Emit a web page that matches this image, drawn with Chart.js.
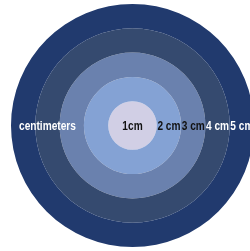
<!DOCTYPE html>
<html>
<head>
<meta charset="utf-8">
<script src="https://cdn.jsdelivr.net/npm/chart.js@4.4.1/dist/chart.umd.min.js"></script>
<style>
  html, body { margin: 0; padding: 0; background: #fff; overflow: hidden; }
  #wrap { width: 265px; height: 251px; }
</style>
</head>
<body>
<div id="wrap"><canvas id="ringChart"></canvas></div>
<script>
// rings from outermost to innermost
const ringLabels = ['5 cm', '4 cm', '3 cm', '2 cm', '1cm'];
const ringValues = [1, 1, 1, 1, 1];
const ringColors = ['#213a6e', '#354a6f', '#6a81ae', '#84a2d4', '#d1cfe5'];
const labelColors = ['#ffffff', '#ffffff', '#111111', '#111111', '#111111'];
const axisTitle = 'centimeters';

const FONT = "bold 13px 'Liberation Sans', Arial, sans-serif";
const SQUEEZE = 0.78; // condensed look

function drawNarrow(ctx, text, x, y) {
  ctx.save();
  ctx.translate(x, y);
  ctx.scale(SQUEEZE, 1);
  ctx.fillText(text, 0, 0);
  ctx.restore();
}

// Ring labels
const ringText = {
  id: 'ringText',
  afterDatasetsDraw(chart) {
    const ctx = chart.ctx;
    ctx.save();
    ctx.font = FONT;
    ctx.textAlign = 'center';
    ctx.textBaseline = 'middle';
    chart.data.datasets.forEach((ds, i) => {
      const arc = chart.getDatasetMeta(i).data[0];
      const mid = arc.innerRadius > 0 ? (arc.innerRadius + arc.outerRadius) / 2 : 0;
      ctx.fillStyle = labelColors[i];
      drawNarrow(ctx, ringLabels[i], arc.x + mid, arc.y + 1);
      if (i === 1) {
        ctx.fillStyle = '#ffffff';
        drawNarrow(ctx, axisTitle, arc.x - mid, arc.y + 1);
      }
    });
    ctx.restore();
  }
};

new Chart(document.getElementById('ringChart'), {
  type: 'doughnut',
  data: {
    labels: ['value'],
    datasets: ringLabels.map((l, i) => ({
      label: l,
      data: [ringValues[i]],
      backgroundColor: ringColors[i],
      borderWidth: 0
    }))
  },
  options: {
    responsive: true,
    maintainAspectRatio: false,
    animation: false,
    cutout: 0,
    layout: { padding: 4 },
    plugins: {
      legend: { display: false },
      tooltip: { enabled: false }
    }
  },
  plugins: [ringText]
});
</script>
</body>
</html>
